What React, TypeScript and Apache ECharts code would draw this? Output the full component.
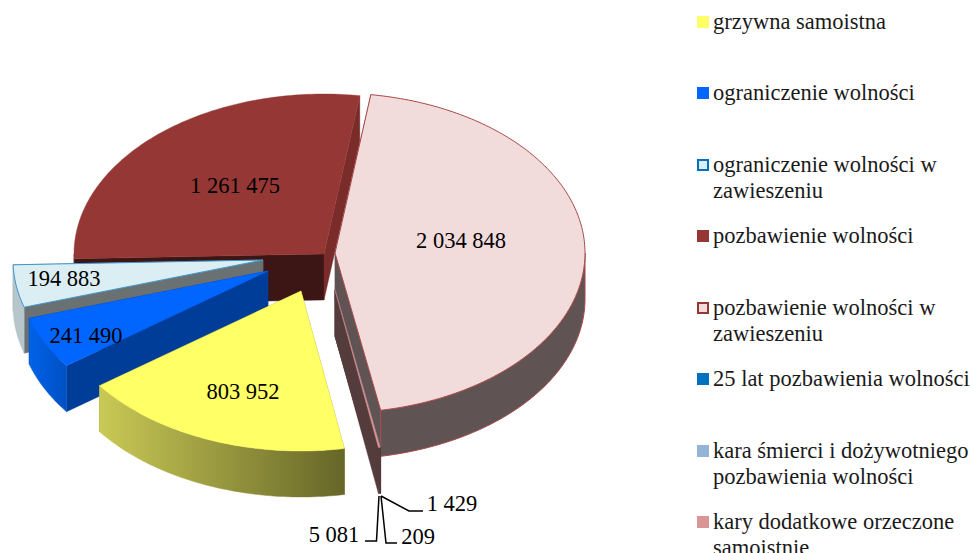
import React, { useEffect, useRef } from "react";
import * as echarts from "echarts";

// ---- data ----
const categories = [
  "grzywna samoistna",
  "ograniczenie wolności",
  "ograniczenie wolności w\nzawieszeniu",
  "pozbawienie wolności",
  "pozbawienie wolności w\nzawieszeniu",
  "25 lat pozbawienia wolności",
  "kara śmierci i dożywotniego\npozbawienia wolności",
  "kary dodatkowe orzeczone\nsamoistnie",
];
const values = [803952, 241490, 194883, 1261475, 2034848, 1429, 209, 5081];

// ---- style and layout ----
const FONT = "'Liberation Serif'";
const FONT_SIZE = 22.5;
const RX = 250;
const RY = 160;
const DEPTH = 46;
const FIRST_ANGLE = 170;
const swatchFill = ["#FFFF66", "#0066FF", "#DAEEF3", "#953735", "#F2DCDB", "#0070C0", "#95B3D7", "#D99694"];
const swatchStroke = [null, null, "#0070C0", null, "#953735", null, null, null];
const swatchTop = [16, 87, 159, 230, 302, 373, 445, 516];
const centers = [[301, 291], [268, 271], [263, 260], [324, 254], [335, 253], [335, 290], [335, 290], [335, 290]];
const drawOrder = [3, 2, 1, 0, 4, 5, 6, 7];
const startFaceFill = ["#8a8a3a", "#003D99", "#6A7173", "#3B1615", "#5F5453", "#5F5453", "#553C3C", "#553C3C"];
const endFaceFill = ["#8a8a3a", "#003D99", "#6A7173", "#7A2C2B", "#5F5453", "#553C3C", "#553C3C", "#553C3C"];
const wallFill: any[] = [
  new echarts.graphic.LinearGradient(0, 0, 1, 0, [
    { offset: 0, color: "#C9C955" },
    { offset: 1, color: "#666628" },
  ]),
  new echarts.graphic.LinearGradient(0, 0, 1, 0, [
    { offset: 0, color: "#0062E8" },
    { offset: 1, color: "#0050C4" },
  ]),
  "#B7C6CB",
  "#5F2322",
  "#5F5453",
  "#553C3C",
  "#553C3C",
  "#553C3C",
];
const edgeStroke = [null, null, "#3F97CF", null, "#A8494A", "#2F6FB0", "#C98F8F", null];
const labelCenters = [[243, 391], [86, 335], [64, 278], [235, 185], [461, 240], [452, 503], [418, 536], [334, 534]];
const leaders = [null, null, null, null, null,
  [[381, 496], [409, 511], [423, 511]],
  [[381, 496], [386, 543], [397, 543]],
  [[379, 496], [376.5, 541], [365, 541]],
];

const total = values.reduce((a, b) => a + b, 0);
const startAngles: number[] = [];
{
  let acc = FIRST_ANGLE;
  values.forEach((v) => {
    startAngles.push(acc);
    acc += (v / total) * 360;
  });
}

const formatValue = (v: number) => String(v).replace(/\B(?=(\d{3})+(?!\d))/g, " ");

function rimPoint(c: number[], deg: number, drop = 0) {
  const a = (deg * Math.PI) / 180;
  return [c[0] + RX * Math.sin(a), c[1] - RY * Math.cos(a) + drop];
}

function arcPoints(c: number[], from: number, to: number, drop = 0) {
  const out: number[][] = [];
  const steps = Math.max(1, Math.ceil(Math.abs(to - from)));
  for (let i = 0; i <= steps; i++) out.push(rimPoint(c, from + ((to - from) * i) / steps, drop));
  return out;
}

function renderSlice(index: number) {
  return (_params: any, api: any) => {
    const value = api.value(0);
    const c = centers[index];
    const a0 = startAngles[index];
    const a1 = a0 + (value / total) * 360;
    const edge = edgeStroke[index];
    const children: any[] = [];
    const poly = (points: number[][], fill: any, stroke?: string | null, width = 1) =>
      children.push({
        type: "polygon",
        shape: { points },
        style: { fill, stroke: stroke || fill, lineWidth: stroke ? width : 0.4 },
      });
    const apexLow = [c[0], c[1] + DEPTH];
    const p0 = rimPoint(c, a0);
    const p1 = rimPoint(c, a1);
    poly([[c[0], c[1]], p0, rimPoint(c, a0, DEPTH), apexLow], startFaceFill[index]);
    poly([[c[0], c[1]], p1, rimPoint(c, a1, DEPTH), apexLow], endFaceFill[index]);
    // outer wall: only the part of the rim which faces the viewer
    const w0 = Math.max(a0 % 360, 90);
    const w1 = Math.min(a0 % 360 + (a1 - a0), 270);
    if (w1 > w0) {
      poly(
        [...arcPoints(c, w0, w1), ...arcPoints(c, w1, w0, DEPTH)],
        wallFill[index],
        index === 4 ? "#A8494A" : null
      );
    }
    poly([[c[0], c[1]], ...arcPoints(c, a0, a1)], swatchFill[index], edge, index > 4 ? 0.5 : 1);
    const lead = leaders[index];
    if (lead) {
      children.push({
        type: "polyline",
        shape: { points: lead },
        style: { fill: "none", stroke: "#000", lineWidth: 1.5 },
      });
    }
    children.push({
      type: "text",
      x: labelCenters[index][0],
      y: labelCenters[index][1],
      style: {
        text: formatValue(value),
        font: `${FONT_SIZE}px ${FONT}`,
        fill: "#000",
        align: "center",
        verticalAlign: "middle",
      },
    });
    return { type: "group", children };
  };
}

export default function App() {
  const ref = useRef<HTMLDivElement>(null);
  useEffect(() => {
    document.body.style.margin = "0";
    const chart = echarts.init(ref.current!, undefined, { renderer: "svg" });
    const legendGraphics: any[] = [];
    categories.forEach((name, i) => {
      legendGraphics.push({
        type: "rect",
        shape: swatchStroke[i]
          ? { x: 698, y: swatchTop[i] + 1, width: 10, height: 10 }
          : { x: 697, y: swatchTop[i], width: 12, height: 12 },
        style: { fill: swatchFill[i], stroke: swatchStroke[i] || undefined, lineWidth: 2 },
      });
      legendGraphics.push({
        type: "text",
        x: 713,
        y: swatchTop[i] - 8,
        style: {
          text: name,
          font: `${FONT_SIZE}px ${FONT}`,
          lineHeight: 26,
          fill: "#1a1a1a",
          align: "left",
          verticalAlign: "top",
        },
      });
    });
    chart.setOption({
      animation: false,
      backgroundColor: "#fff",
      tooltip: { show: false },
      graphic: legendGraphics,
      series: categories.map((name, i) => ({
        type: "custom",
        name,
        coordinateSystem: "none",
        z: 2 + drawOrder.indexOf(i),
        data: [[values[i]]],
        renderItem: renderSlice(i),
        silent: true,
      })),
    });
    return () => chart.dispose();
  }, []);
  return <div ref={ref} style={{ width: 973, height: 553 }} />;
}
